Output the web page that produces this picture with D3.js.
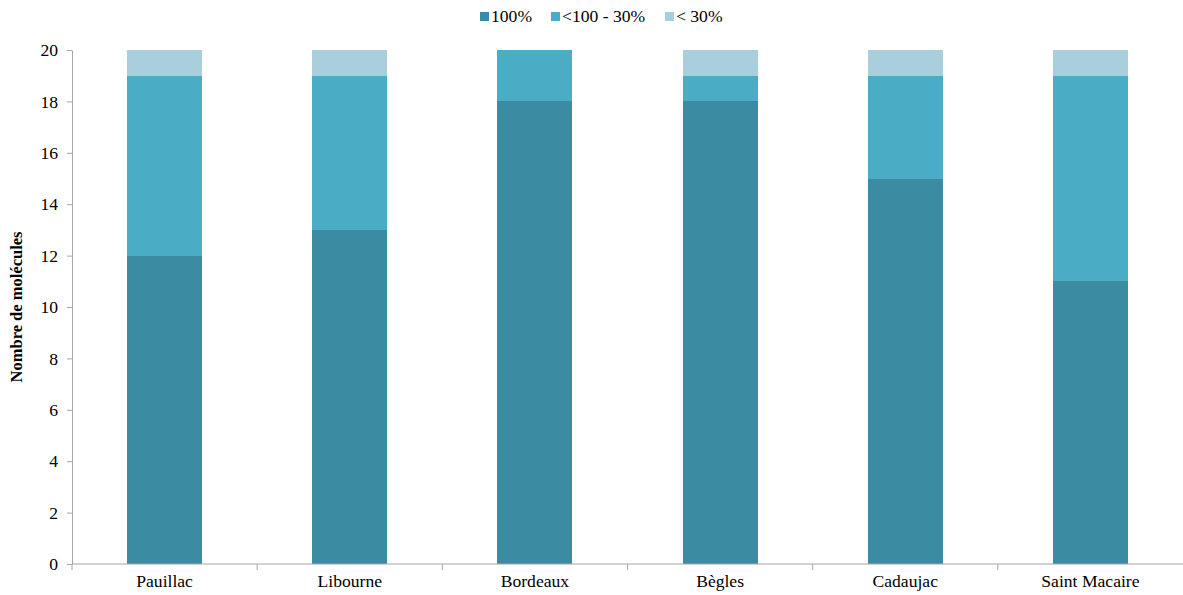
<!DOCTYPE html>
<html><head><meta charset="utf-8">
<script src="https://cdn.jsdelivr.net/npm/d3@7"></script>
<style>body{margin:0;background:#fff}svg{display:block}svg text{font-family:"Liberation Serif","Times New Roman",serif !important;}</style>
</head><body>
<svg id="c" width="1183" height="595"></svg>
<script>
const categories = ["Pauillac","Libourne","Bordeaux","Bègles","Cadaujac","Saint Macaire"];
const seriesNames = ["100%","<100 - 30%","< 30%"];
const s100 = [12,13,18,18,15,11];
const s100_30 = [7,6,2,1,4,8];
const sLt30 = [1,1,0,1,1,1];
const yTicks = [0,2,4,6,8,10,12,14,16,18,20];
const colors = ["#3B8BA2","#4BACC6","#A9CFDC"];

(function(){
const svg = d3.select("#c");
const fs = 17.6;
const mL = 72, mR = 1183, mT = 50, mB = 564;
const x = d3.scaleBand().domain(categories).range([mL,mR]).paddingInner(0).paddingOuter(0);
const y = d3.scaleLinear().domain([0,20]).range([mB,mT]);

const rows = categories.map((c,i)=>({cat:c, a:s100[i], b:s100_30[i], c2:sLt30[i]}));
const stack = d3.stack().keys(["a","b","c2"])(rows);
const bw = 75;
svg.append("g").attr("shape-rendering","crispEdges").selectAll("g").data(stack).join("g")
  .attr("fill",(d,i)=>colors[i])
  .selectAll("rect").data(d=>d).join("rect")
  .attr("x",d=>x(d.data.cat)+x.bandwidth()/2-bw/2)
  .attr("width",bw)
  .attr("y",d=>y(d[1]))
  .attr("height",d=>y(d[0])-y(d[1]));

const ya = svg.append("g").attr("transform",`translate(${mL},0)`)
  .call(d3.axisLeft(y).tickValues(yTicks).tickSize(5).tickPadding(9).tickSizeOuter(0));
ya.select(".domain").attr("stroke","#a6a6a6");
ya.selectAll(".tick line").attr("stroke","#a6a6a6");
ya.selectAll("text").attr("font-size",fs).attr("fill","#000");

const xa = svg.append("g").attr("transform",`translate(0,${mB})`)
  .call(d3.axisBottom(x).tickSize(0).tickPadding(11));
xa.select(".domain").attr("stroke","#a6a6a6").attr("d",`M${mL},0H${mR}`);
xa.selectAll("text").attr("font-size",fs).attr("fill","#000");
const bounds = categories.map(c=>x(c));
xa.selectAll(".bnd").data(bounds).join("line").attr("class","bnd")
  .attr("x1",d=>d).attr("x2",d=>d).attr("y1",0).attr("y2",6).attr("stroke","#a6a6a6");

svg.append("text").attr("transform",`translate(22,${(mT+mB)/2}) rotate(-90)`)
  .attr("text-anchor","middle").attr("font-size",16.5)
  .attr("font-weight","bold").text("Nombre de molécules");

const lg = svg.append("g");
const lx = [480,551,665];
seriesNames.forEach((n,i)=>{
  lg.append("rect").attr("x",lx[i]).attr("y",12).attr("width",9).attr("height",9).attr("fill",colors[i]);
  lg.append("text").attr("x",lx[i]+11).attr("y",22).attr("font-size",fs).text(n);
});
})();
</script>
</body></html>
